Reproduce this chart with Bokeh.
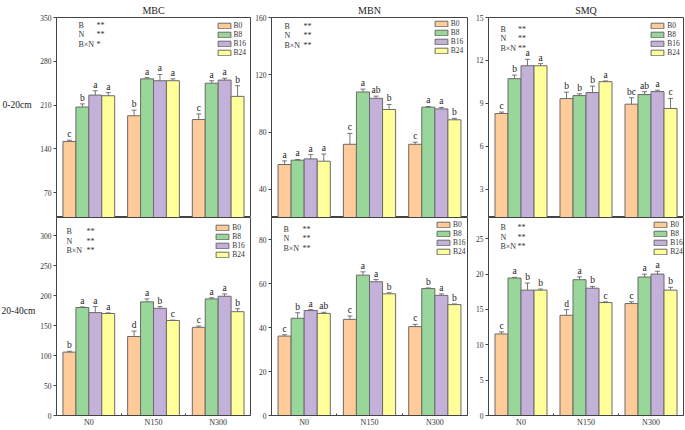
from bokeh.plotting import figure
from bokeh.models import (Range1d, FixedTicker, ColumnDataSource, Whisker, TeeHead,
                          Label, Legend, LegendItem)
from bokeh.layouts import row, column
from bokeh.embed import file_html
from bokeh.resources import INLINE
from bokeh.core.properties import value

FONT = "Liberation Serif"

groups = ["N0", "N150", "N300"]
series = ["B0", "B8", "B16", "B24"]
colors = ["#FFCC99", "#99D699", "#C4B1D9", "#FFFF99"]

# ---- 0-20cm ----
MBC_020_MEAN = [[152, 193, 187], [207, 252, 245], [226, 249, 250], [225, 249, 224]]
MBC_020_ERR = [[2, 9, 9], [5, 2, 4], [7, 10, 3], [5, 3, 17]]
MBC_020_LET = [["c", "b", "c"], ["b", "a", "a"], ["a", "a", "a"], ["a", "a", "b"]]
MBC_020_SIG = ["**", "**", "*"]

MBN_020_MEAN = [[57.4, 71.5, 71.5], [60.4, 108, 97.4], [61.3, 103.6, 96.2], [59.7, 95.8, 88.6]]
MBN_020_ERR = [[2.5, 7.6, 1.5], [0.5, 2, 0.5], [3, 1.5, 1], [5, 3.5, 1]]
MBN_020_LET = [["a", "c", "c"], ["a", "a", "a"], ["a", "ab", "a"], ["a", "b", "b"]]
MBN_020_SIG = ["**", "**", "**"]

SMQ_020_MEAN = [[8.3, 9.34, 8.95], [10.73, 9.55, 9.62], [11.63, 9.76, 9.83], [11.63, 10.52, 8.65]]
SMQ_020_ERR = [[0.1, 0.45, 0.45], [0.25, 0.12, 0.2], [0.45, 0.45, 0.1], [0.15, 0.05, 0.7]]
SMQ_020_LET = [["c", "b", "bc"], ["b", "b", "ab"], ["a", "b", "a"], ["a", "a", "c"]]
SMQ_020_SIG = ["**", "**", "**"]

# ---- 20-40cm ----
MBC_2040_MEAN = [[105.6, 131.7, 147], [180, 189.4, 194.3], [171.5, 178.6, 198.7], [170, 158.4, 173]]
MBC_2040_ERR = [[1.5, 9, 2], [1, 5, 2], [10, 3, 4], [1, 0.5, 5]]
MBC_2040_LET = [["b", "d", "c"], ["a", "a", "a"], ["a", "b", "a"], ["a", "c", "b"]]
MBC_2040_SIG = ["**", "**", "**"]

MBN_2040_MEAN = [[36.1, 43.7, 40.4], [44.2, 63.8, 57.7], [47.7, 60.8, 54.6], [46.4, 55.3, 50.4]]
MBN_2040_ERR = [[0.6, 1.5, 1], [2.5, 1.5, 0.3], [0.4, 1, 0.7], [0.5, 0.5, 0.3]]
MBN_2040_LET = [["c", "c", "c"], ["b", "a", "b"], ["a", "a", "a"], ["ab", "b", "b"]]
MBN_2040_SIG = ["**", "**", "**"]

SMQ_2040_MEAN = [[11.53, 14.17, 15.83], [19.44, 19.2, 19.58], [17.73, 18.0, 20.0], [17.73, 15.97, 17.73]]
SMQ_2040_ERR = [[0.3, 0.8, 0.25], [0.1, 0.4, 0.4], [1.0, 0.25, 0.4], [0.15, 0.1, 0.4]]
SMQ_2040_LET = [["c", "d", "c"], ["a", "a", "a"], ["b", "b", "a"], ["b", "c", "b"]]
SMQ_2040_SIG = ["**", "**", "**"]

SIG_FACTORS = ["B", "N", "B×N"]

Y_RANGES = [[(30.5, 350), (20.4, 160), (1.04, 15)], [(0, 330), (0, 90), (0, 28)]]
Y_TICKS = [[[70, 140, 210, 280, 350], [40, 80, 120, 160], [3, 6, 9, 12, 15]],
           [[0, 50, 100, 150, 200, 250, 300], [0, 20, 40, 60, 80], [0, 5, 10, 15, 20, 25]]]
TITLES = ["MBC", "MBN", "SMQ"]
ROW_LABELS = ["0-20cm", "20-40cm"]

# layout (pixels)
offsets = [-0.3, -0.1, 0.1, 0.3]
LABEL_W = 37
FWS = [195, 196, 195]
COL_L = [18, 20, 20]
COL_R = [1, 1, 1]
ROW_T = [16, 0]
ROW_B = [0, 12]
FH = [201, 200]
ROW_LABEL_Y = [104, 310]            # from top of page
# significance block: (x of factor, x of stars, y of first line) relative to frame top-left
SIG_POS = [[(22, 40, 8.5), (13, 32, 9.6), (12, 29.5, 12.6)],
           [(10, 30, 16), (12, 31, 13.7), (12, 29, 12)]]
LEG_POS = [[(35.5, 5.3), (34.3, 3.3), (33.7, 5.3)],
           [(36.7, 8), (32, 5.3), (30.7, 4.7)]]

DATA = [[(MBC_020_MEAN, MBC_020_ERR, MBC_020_LET, MBC_020_SIG),
         (MBN_020_MEAN, MBN_020_ERR, MBN_020_LET, MBN_020_SIG),
         (SMQ_020_MEAN, SMQ_020_ERR, SMQ_020_LET, SMQ_020_SIG)],
        [(MBC_2040_MEAN, MBC_2040_ERR, MBC_2040_LET, MBC_2040_SIG),
         (MBN_2040_MEAN, MBN_2040_ERR, MBN_2040_LET, MBN_2040_SIG),
         (SMQ_2040_MEAN, SMQ_2040_ERR, SMQ_2040_LET, SMQ_2040_SIG)]]

AX = "#444444"


def make_panel(r, c):
    means, errs, lets, sig = DATA[r][c]
    fh = FH[r]
    fw = FWS[c]
    p = figure(width=COL_L[c] + fw + COL_R[c], height=ROW_T[r] + fh + ROW_B[r],
               output_backend="svg", toolbar_location=None,
               x_range=Range1d(-0.5, 2.5), y_range=Range1d(*Y_RANGES[r][c]),
               x_axis_location=("below" if r == 1 else None),
               min_border_left=COL_L[c], min_border_right=COL_R[c],
               min_border_top=ROW_T[r], min_border_bottom=ROW_B[r])
    p.xgrid.visible = False
    p.ygrid.visible = False
    p.outline_line_color = AX
    p.outline_line_width = 1
    p.background_fill_color = "white"
    p.border_fill_color = "white"

    if r == 0:
        p.title.text = TITLES[c]
        p.title.align = "center"
        p.title.text_font = FONT
        p.title.text_font_size = "10px"
        p.title.text_font_style = "normal"
        p.title.text_color = "#222222"
        if "standoff" in p.title.properties():
            p.title.standoff = 4
        p.title.offset = 0

    yax = p.yaxis[0]
    yax.ticker = FixedTicker(ticks=Y_TICKS[r][c])
    yax.major_tick_out = 3
    yax.major_tick_in = 0
    yax.minor_tick_out = 0
    yax.minor_tick_in = 0
    yax.major_label_standoff = 2
    yax.major_label_text_font = FONT
    yax.major_label_text_font_size = "7.5px"
    yax.major_label_text_color = "#333333"
    yax.axis_line_color = AX
    yax.major_tick_line_color = AX

    if r == 1:
        xax = p.xaxis[0]
        xax.ticker = FixedTicker(ticks=[0, 1, 2], minor_ticks=[0.5, 1.5])
        xax.major_label_overrides = {i: g for i, g in enumerate(groups)}
        xax.major_tick_out = 0
        xax.major_tick_in = 0
        xax.minor_tick_in = 2
        xax.minor_tick_out = 0
        xax.minor_tick_line_color = AX
        xax.major_label_standoff = 2
        xax.major_label_text_font = FONT
        xax.major_label_text_font_size = "8px"
        xax.major_label_text_color = "#333333"
        xax.axis_line_color = AX

    items = []
    for k, s in enumerate(series):
        xs = [i + offsets[k] for i in range(len(groups))]
        src = ColumnDataSource(dict(x=xs, top=means[k],
                                    upper=[m + e for m, e in zip(means[k], errs[k])],
                                    lower=[m - e for m, e in zip(means[k], errs[k])],
                                    let=lets[k]))
        rend = p.vbar(x="x", top="top", bottom=0, width=0.2, source=src,
                      fill_color=colors[k], line_color="#6a6a6a", line_width=1)
        items.append(LegendItem(label=s, renderers=[rend]))
        w = Whisker(source=src, base="x", upper="upper", lower="lower",
                    line_color="#555555", line_width=0.8,
                    upper_head=TeeHead(size=5, line_color="#555555", line_width=0.8),
                    lower_head=TeeHead(size=5, line_color="#555555", line_width=0.8))
        p.add_layout(w)
        p.text(x="x", y="upper", text="let", source=src, text_align="center",
               text_baseline="bottom", y_offset=-1, text_font=value(FONT),
               text_font_size="9.5px", text_color="#1a1a1a")

    lx, ly = LEG_POS[r][c]
    leg = Legend(items=items, location=(fw - lx, fh - ly - 36), orientation="vertical",
                 glyph_width=16, glyph_height=7, label_height=7, label_width=10,
                 spacing=0, padding=0, margin=0, label_standoff=2,
                 label_text_font=FONT, label_text_font_size="7.5px",
                 label_text_color="#333333", border_line_alpha=0,
                 background_fill_alpha=0)
    p.add_layout(leg)

    xf, xs_, y0 = SIG_POS[r][c]
    for j, (f, sgn) in enumerate(zip(SIG_FACTORS, sig)):
        yy = fh - y0 - 9.6 * j
        p.add_layout(Label(x=xf, y=yy, x_units="screen", y_units="screen", text=f,
                           text_font=FONT, text_font_size="8px", text_baseline="middle",
                           text_color="#333333"))
        p.add_layout(Label(x=xs_, y=yy, x_units="screen", y_units="screen", text=sgn,
                           text_font=FONT, text_font_size="8px", text_baseline="middle",
                           text_color="#333333"))
    return p


# left strip holding the row labels (pixel coordinates)
total_h = ROW_T[0] + FH[0] + ROW_B[0] + ROW_T[1] + FH[1] + ROW_B[1]
lab = figure(width=LABEL_W, height=total_h, output_backend="svg", toolbar_location=None,
             x_range=Range1d(0, LABEL_W), y_range=Range1d(0, total_h),
             x_axis_location=None, y_axis_location=None,
             min_border_left=0, min_border_right=0, min_border_top=0, min_border_bottom=0)
lab.xgrid.visible = False
lab.ygrid.visible = False
lab.outline_line_color = None
lab.text(x=[2, 1], y=[total_h - v for v in ROW_LABEL_Y], text=ROW_LABELS,
         text_align="left", text_baseline="middle",
         text_font=value(FONT), text_font_size="9.5px", text_color="#222222")

rows = []
for r in range(2):
    rows.append(row(*[make_panel(r, c) for c in range(3)]))
layout = row(lab, column(*rows))

open("out.html", "w").write(file_html(layout, INLINE))
